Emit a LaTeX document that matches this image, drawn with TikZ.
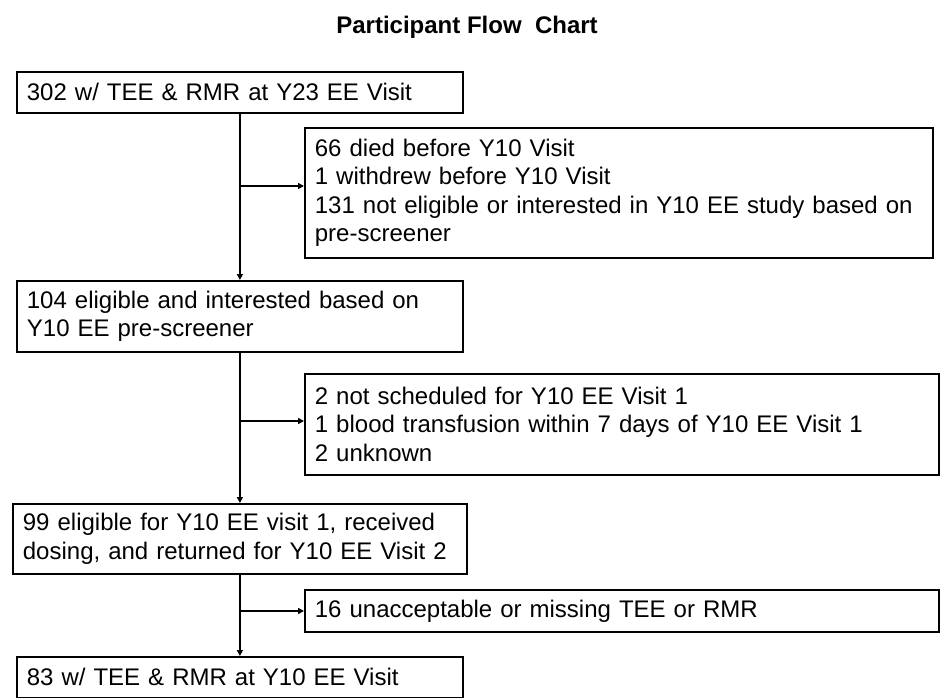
\documentclass[tikz,border=0pt]{standalone}
\usepackage{fontspec}
\setmainfont{Liberation Sans}
\usetikzlibrary{arrows.meta}
\begin{document}
\begin{tikzpicture}[x=1pt,y=-1pt,
  box/.style={draw=black, line width=1.8pt, fill=white, anchor=north west,
    align=left, inner xsep=10pt, inner ysep=0pt,
    font=\fontsize{24}{28.5}\selectfont},
  link/.style={line width=1.8pt, draw=black},
  arr/.style={link, -{Triangle[length=6pt,width=6pt]}}]
\fill[white] (0,0) rectangle (940,698);
\useasboundingbox (0,0) rectangle (940,698);

\node[font=\bfseries\fontsize{24}{28}\selectfont, anchor=base] (title) at (467,34) {Participant Flow~ Chart};

\node[box, text width=426pt, minimum height=41pt] (b1) at (16,71)
  {302 w/ TEE \& RMR at Y23 EE Visit};
\node[box, text width=608pt, minimum height=130pt] (b2) at (304,127)
  {66 died before Y10 Visit\\1 withdrew before Y10 Visit\\131 not eligible or interested in Y10 EE study based on\\pre-screener};
\node[box, text width=426pt, minimum height=71pt] (b3) at (16,280)
  {104 eligible and interested based on\\Y10 EE pre-screener};
\node[box, text width=614pt, minimum height=101pt] (b4) at (304,373)
  {2 not scheduled for Y10 EE Visit 1\\1 blood transfusion within 7 days of Y10 EE Visit 1\\2 unknown};
\node[box, text width=434pt, minimum height=70pt] (b5) at (12,503)
  {99 eligible for Y10 EE visit 1, received\\dosing, and returned for Y10 EE Visit 2};
\node[box, text width=614pt, minimum height=42pt] (b7) at (304,589)
  {16 unacceptable or missing TEE or RMR};
\node[box, text width=426pt, minimum height=41pt] (b6) at (16,656)
  {83 w/ TEE \& RMR at Y10 EE Visit};

\coordinate (j1) at (239,186);
\coordinate (j2) at (239,421);
\coordinate (j3) at (239,611);

\draw[arr] (b1.south) -- (b3.north);
\draw[arr] (b3.south) -- (b3.south |- b5.north);
\draw[arr] (b5.south) -- (b5.south |- b6.north);
\draw[arr] (j1) -- (j1 -| b2.west);
\draw[arr] (j2) -- (j2 -| b4.west);
\draw[arr] (j3) -- (j3 -| b7.west);
\end{tikzpicture}
\end{document}
